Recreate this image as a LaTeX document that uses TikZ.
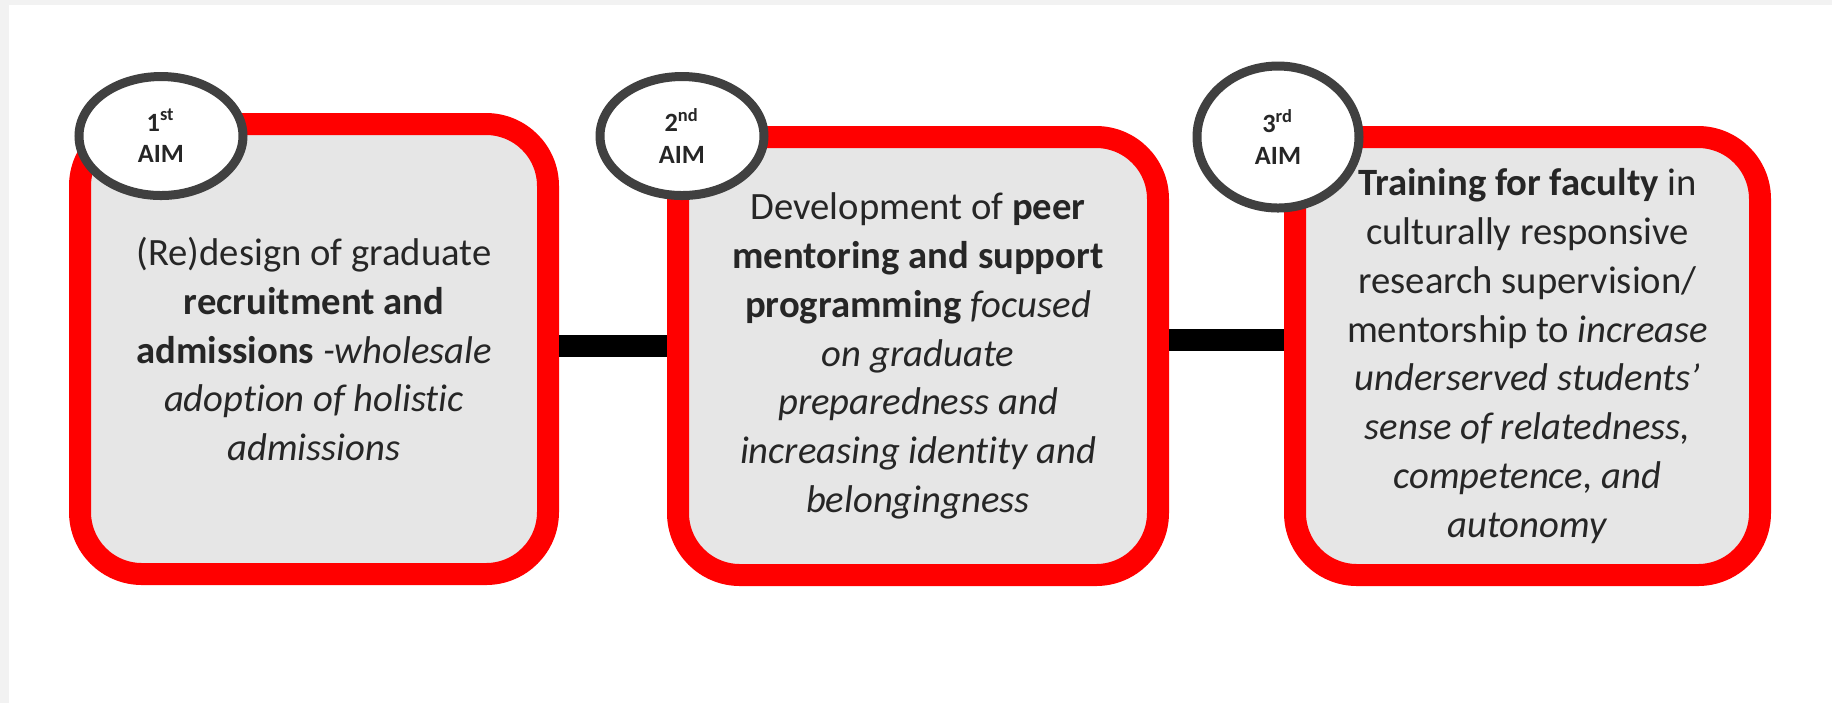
\documentclass[tikz,border=0pt]{standalone}
\usepackage{fontspec}
\setmainfont{Carlito}[Ligatures=NoCommon]
\usetikzlibrary{shapes.geometric,positioning}
\definecolor{aimred}{HTML}{FF0000}
\definecolor{aimfill}{HTML}{E6E6E6}
\definecolor{ringgray}{HTML}{404040}
\definecolor{pagegray}{HTML}{F2F2F2}
\tikzset{
  aimbox/.style={draw=aimred,fill=aimfill,line width=2.2mm,rounded corners=6.2mm,
    inner sep=0pt,align=center,text=black!85,font=\fontsize{11}{13.9}\selectfont},
  aimtag/.style={ellipse,draw=ringgray,fill=white,line width=0.9mm,inner sep=0pt,
    align=center,text=black!85,font=\fontsize{7.5}{9}\selectfont\bfseries},
  link/.style={line width=2.2mm,black}
}

\begin{document}
\begin{tikzpicture}
  \def\w{18.32}
  \def\h{7.03}
  \fill[white] (0,0) rectangle (\w,-\h);
  \fill[pagegray] (0,0) rectangle (\w,-0.05);
  \fill[pagegray] (0,0) rectangle (0.09,-\h);
  \useasboundingbox (0,0) rectangle (\w,-\h);

  \node[aimbox,minimum width=4.68cm,minimum height=4.50cm] (aim1) at (3.14,-3.49)
    {(Re)design of graduate\\
     \textbf{recruitment and}\\
     \textbf{admissions} \textit{-wholesale}\\
     \textit{adoption of holistic}\\
     \textit{admissions}};
  \node[aimbox,minimum width=4.80cm,minimum height=4.38cm] (aim2) at (9.18,-3.56)
    {Development of \textbf{peer}\\
     \textbf{mentoring and support}\\
     \textbf{programming} \textit{focused}\\
     \textit{on graduate}\\
     \textit{preparedness and}\\
     \textit{increasing identity and}\\
     \textit{belongingness}};
  \node[aimbox,minimum width=4.65cm,minimum height=4.38cm] (aim3) at (15.275,-3.56)
    {\textbf{Training for faculty} in\\
     culturally responsive\\
     research supervision/\\
     mentorship to \textit{increase}\\
     \textit{underserved students’}\\
     \textit{sense of relatedness,}\\
     \textit{competence, and}\\
     \textit{autonomy}};

  \draw[link] ([yshift=0.03cm]aim1.east) -- ([yshift=0.03cm]aim1.east -| aim2.west);
  \path ([yshift=0.16cm]aim2.east) coordinate (mid2);
  \draw[link] (mid2) -- (mid2 -| aim3.west);

  \node[aimtag,minimum width=1.64cm,minimum height=1.19cm] (tag1) at (1.61,-1.36)
    {1\textsuperscript{st}\\AIM};
  \node[aimtag,minimum width=1.64cm,minimum height=1.19cm] (tag2) at (6.82,-1.36)
    {2\textsuperscript{nd}\\AIM};
  \node[aimtag,minimum width=1.62cm,minimum height=1.42cm] (tag3) at (12.78,-1.37)
    {3\textsuperscript{rd}\\AIM};
\end{tikzpicture}
\end{document}
